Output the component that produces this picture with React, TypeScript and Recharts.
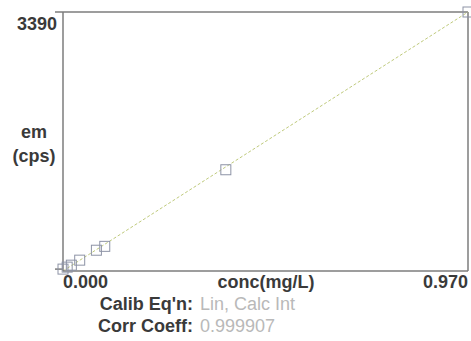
import React from 'react';
import { ComposedChart, XAxis, YAxis, Scatter, Line, ReferenceLine } from 'recharts';

// Calibration standards: concentration (mg/L) vs emission (cps)
const concValues = [0, 0.01, 0.02, 0.04, 0.08, 0.1, 0.39, 0.97];
const emValues = [0, 26, 52, 118, 249, 300, 1310, 3390];

// Fitted calibration line end points
const fitConc = [0, 0.97];
const fitEm = [-25, 3390];

const xTicks = [0, 0.97];
const yTicks = [0, 3390];

const xTitle = 'conc(mg/L)';
const yTitle = ['em', '(cps)'];
const eqLabel = "Calib Eq'n:";
const eqValue = 'Lin, Calc Int';
const corrLabel = 'Corr Coeff:';
const corrValue = '0.999907';

const points = concValues.map((c, i) => ({ conc: c, em: emValues[i] }));
const fit = fitConc.map((c, i) => ({ conc: c, em: fitEm[i] }));

const FONT = '"Liberation Sans", Arial, sans-serif';
const FONT_SIZE = 18;
const DARK = '#3a3a3a';
const LIGHT = '#b9b9b9';
const FRAME = '#7c7c7c';

const SquareMarker = (props: any) => {
  const { cx, cy } = props;
  if (cx == null || cy == null) return <g />;
  return (
    <rect x={cx - 5} y={cy - 5} width={10} height={10} fill="none" stroke="#8d93a6" strokeWidth={1} />
  );
};

// First tick label sits right of its tick, the last one left of it
const XTick = (props: any) => {
  const { x, payload } = props;
  const label = Number(payload.value).toFixed(3);
  const first = payload.value === xTicks[0];
  return (
    <text
      x={x}
      y={288}
      textAnchor={first ? 'start' : 'end'}
      style={{ fontFamily: FONT, fontSize: FONT_SIZE, fontWeight: 'bold', fill: DARK }}
    >
      <tspan x={x}>{label}</tspan>
    </text>
  );
};

const YTick = (props: any) => {
  const { y, payload } = props;
  if (payload.value === 0) return <g />;
  return (
    <text x={57} y={y + 18} textAnchor="end" fontFamily={FONT} fontSize={FONT_SIZE} fontWeight="bold" fill={DARK}>
      {payload.value}
    </text>
  );
};

const XLabel = () => (
  <g fontFamily={FONT} fontSize={FONT_SIZE}>
    <text x={266} y={288} textAnchor="middle" fontWeight="bold" fill={DARK}>{xTitle}</text>
    <text x={193} y={310} textAnchor="end" fontWeight="bold" fill={DARK}>{eqLabel}</text>
    <text x={200} y={310} textAnchor="start" fill={LIGHT}>{eqValue}</text>
    <text x={193} y={332} textAnchor="end" fontWeight="bold" fill={DARK}>{corrLabel}</text>
    <text x={200} y={332} textAnchor="start" fill={LIGHT}>{corrValue}</text>
  </g>
);

const YLabel = () => (
  <g fontFamily={FONT} fontSize={FONT_SIZE} fontWeight="bold" fill={DARK}>
    <text x={34} y={138} textAnchor="middle">{yTitle[0]}</text>
    <text x={34} y={162} textAnchor="middle">{yTitle[1]}</text>
  </g>
);

export default function App() {
  return (
    <div style={{ position: 'absolute', left: 0, top: 0, width: 471, height: 341, background: '#fff' }}>
      <ComposedChart
        width={471}
        height={341}
        data={points}
        margin={{ top: 12, right: 3, bottom: 0, left: 0 }}
      >
        <XAxis
          dataKey="conc"
          type="number"
          domain={[0, 0.97]}
          ticks={xTicks}
          height={70}
          tickLine={false}
          axisLine={{ stroke: FRAME, strokeWidth: 1.5 }}
          tick={<XTick />}
          interval={0}
          label={{ content: () => <XLabel /> }}
        />
        <YAxis
          dataKey="em"
          type="number"
          domain={[0, 3390]}
          ticks={yTicks}
          width={63}
          tickSize={8}
          tickLine={{ stroke: FRAME, strokeWidth: 1.5 }}
          axisLine={{ stroke: FRAME, strokeWidth: 1.5 }}
          tick={<YTick />}
          interval={0}
          label={{ content: () => <YLabel /> }}
        />
        <ReferenceLine y={3390} stroke={FRAME} strokeWidth={1.5} />
        <ReferenceLine x={0.97} stroke={FRAME} strokeWidth={1.5} />
        <Line
          data={fit}
          dataKey="em"
          type="linear"
          stroke="#bfca7c"
          strokeWidth={1}
          strokeDasharray="3 2"
          dot={false}
          activeDot={false}
          isAnimationActive={false}
        />
        <Scatter data={points} dataKey="em" shape={<SquareMarker />} isAnimationActive={false} />
      </ComposedChart>
    </div>
  );
}
